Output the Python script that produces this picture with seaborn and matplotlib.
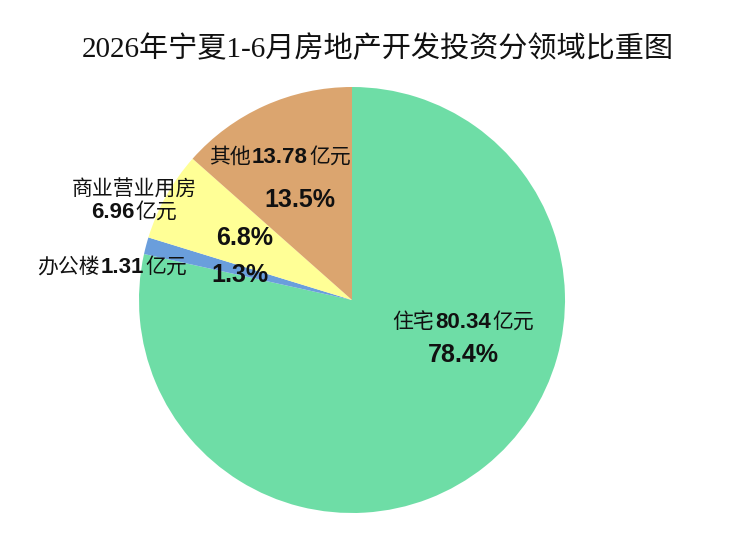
import matplotlib
matplotlib.use("Agg")
import matplotlib.pyplot as plt
import seaborn as sns
from matplotlib.offsetbox import TextArea, HPacker, VPacker, AnnotationBbox

sns.set_theme(style="white")
plt.rcParams['font.family'] = ['Noto Sans CJK SC', 'DejaVu Sans']

# ---- data ----
categories = ["住宅", "办公楼", "商业营业用房", "其他"]
values = [80.34, 1.31, 6.96, 13.78]
percents = [78.4, 1.3, 6.8, 13.5]
unit = "亿元"
colors = ["#6EDDA6", "#6A9EDC", "#FFFF96", "#DBA56F"]
title = "2026年宁夏1-6月房地产开发投资分领域比重图"

# ---- layout (pixel coordinates, y down) ----
W, H = 752, 540
center_px = (352, 300)
radius_px = 213
name_pos = [(463, 322), (112, 267), (134, 201), (280, 157)]
pct_pos = [(463, 355), (240, 275), (245, 238), (300, 200)]

fig = plt.figure(figsize=(W / 100, H / 100), dpi=100)
ax = fig.add_axes([0, 0, 1, 1])

def to_data(p):
    return (p[0], H - p[1])

ax.pie(values, colors=colors, startangle=90, counterclock=False,
       center=to_data(center_px), radius=radius_px, frame=True,
       wedgeprops=dict(linewidth=0, edgecolor="none"))
ax.set_xlim(0, W)
ax.set_ylim(0, H)
ax.set_aspect("equal")
ax.axis("off")

cjk = dict(family=['Noto Sans CJK SC', 'DejaVu Sans'], size=15, color="#111111")
num = dict(family=['Liberation Sans', 'Noto Sans CJK SC'], size=16, weight="bold", color="#111111")

for i, (cat, v) in enumerate(zip(categories, values)):
    vstr = f"{v:.2f}"
    if cat == "商业营业用房":
        line1 = TextArea(cat, textprops=cjk)
        line2 = HPacker(children=[TextArea(vstr, textprops=num), TextArea(unit, textprops=cjk)],
                        align="baseline", pad=0, sep=1)
        box = VPacker(children=[line1, line2], align="center", pad=0, sep=0)
    else:
        box = HPacker(children=[TextArea(cat, textprops=cjk), TextArea(vstr, textprops=num),
                                TextArea(unit, textprops=cjk)],
                      align="baseline", pad=0, sep=1)
    ab = AnnotationBbox(box, to_data(name_pos[i]), xycoords="data", frameon=False,
                        box_alignment=(0.5, 0.5), pad=0)
    ax.add_artist(ab)
    ax.text(*to_data(pct_pos[i]), f"{percents[i]:.1f}%", ha="center", va="center",
            family=['Liberation Sans', 'DejaVu Sans'], weight="bold", size=18, color="#111111")

fig.text(378 / W, 1 - 49 / H, title, ha="center", va="center",
         family=['Liberation Serif', 'Noto Sans CJK SC'], size=21, color="#111111")

fig.savefig("out.png", dpi=100, facecolor="white")
